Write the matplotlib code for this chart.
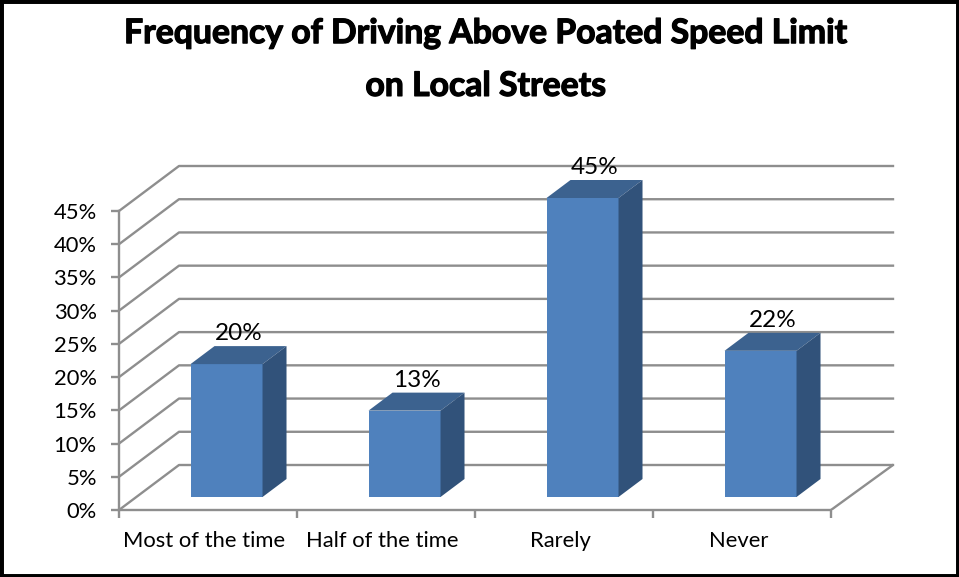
import matplotlib
matplotlib.use("Agg")
import matplotlib.pyplot as plt
import matplotlib.patheffects as pe
import numpy as np
from matplotlib.patches import Polygon, Rectangle

categories = ["Most of the time", "Half of the time", "Rarely", "Never"]
values = [20, 13, 45, 22]
y_ticks = [0, 5, 10, 15, 20, 25, 30, 35, 40, 45]
title = "Frequency of Driving Above Poated Speed Limit\non Local Streets"

W, H = 959, 577
px_x = 178.0      # pixels per category
px_y = 299 / 45   # pixels per percent

plt.rcParams["font.family"] = ["Lato", "DejaVu Sans"]

fig = plt.figure(figsize=(W / 100, H / 100), dpi=100)
ax = fig.add_axes([119 / W, 1 - 510 / H, 774 / W, 345 / H])
ax.set_xlim(0, 774 / px_x)
ax.set_ylim(0, 345 / px_y)
ax.patch.set_visible(False)

grey = "#8e8e8e"
wall_dx = 60 / px_x
wall_dy = 45 / px_y

# back wall + side wall
for t in y_ticks:
    ax.plot([0, wall_dx, 774 / px_x], [t, t + wall_dy, t + wall_dy], color=grey, lw=1.7, zorder=1, clip_on=False)
# floor edge on the right
ax.plot([4, 4 + wall_dx + 2 / px_x], [0, wall_dy], color=grey, lw=1.7, zorder=1)

# fake 3d bars
bar_w = 72 / px_x
floor = 13 / px_y
depth_x = 24 / px_x
depth_y = 18 / px_y
x = np.arange(len(values)) + 0.604
ax.bar(x, values, width=bar_w, bottom=floor, color="#4f81bd", zorder=3)
for xi, v in zip(x, values):
    l, r = xi - bar_w / 2, xi + bar_w / 2
    top = floor + v
    ax.add_patch(Polygon([(l, top), (r, top), (r + depth_x, top + depth_y), (l + depth_x, top + depth_y)],
                         closed=True, facecolor="#3c628f", edgecolor="none", zorder=3))
    ax.add_patch(Polygon([(r, floor), (r + depth_x, floor + depth_y), (r + depth_x, top + depth_y), (r, top)],
                         closed=True, facecolor="#31527a", edgecolor="none", zorder=3))
    ax.annotate("%d%%" % v, (xi + 12 / px_x, top + depth_y), xytext=(0, 1.5), textcoords="offset points",
                ha="center", va="bottom", fontsize=17.5, color="black", zorder=4, annotation_clip=False)

for s in ["top", "right"]:
    ax.spines[s].set_visible(False)
for s in ["left", "bottom"]:
    ax.spines[s].set_color(grey)
    ax.spines[s].set_linewidth(1.7)
ax.spines["left"].set_bounds(0, 45)
ax.spines["bottom"].set_bounds(0, 4)

ax.set_yticks(y_ticks)
ax.set_yticklabels(["%d%%" % t for t in y_ticks])
ax.set_xticks(range(5))
ax.set_xticklabels([])
ax.set_xticks(np.arange(4) + 0.48, categories, minor=True)
ax.tick_params(axis="both", which="major", color=grey, width=1.7, length=6)
ax.tick_params(axis="y", labelsize=15.8, pad=10)
ax.tick_params(axis="x", which="minor", length=0, labelsize=15.8, pad=15)

t = fig.text(486 / W, 1 - 59.5 / H, title, ha="center", va="center", fontsize=24.3, fontweight="bold",
             linespacing=1.8, color="black")
t.set_path_effects([pe.withStroke(linewidth=0.9, foreground="black")])

fig.add_artist(Rectangle((0, 0), 1, 1, transform=fig.transFigure, fill=False, edgecolor="black", linewidth=5))

fig.savefig("out.png", dpi=100)
